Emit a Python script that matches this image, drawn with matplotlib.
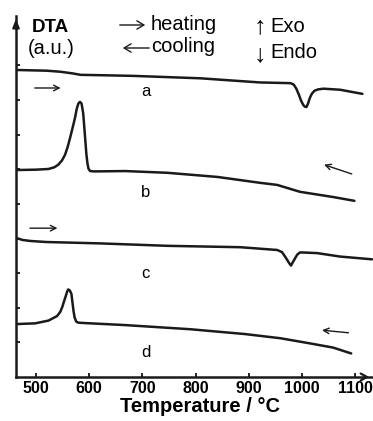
import matplotlib
matplotlib.use("Agg")
import matplotlib.pyplot as plt
from matplotlib.patches import FancyArrowPatch

plt.rcParams['font.family'] = ['Liberation Sans', 'DejaVu Sans']

# DTA traces, temperature in degC and signal in arbitrary units
a_T = [465, 520, 546, 570, 584, 620, 683, 809, 921, 978, 984, 989, 994, 998, 1002, 1005,
       1008, 1011, 1014, 1018, 1023, 1030, 1040, 1071, 1113]
a_y = [8.87, 8.85, 8.82, 8.77, 8.73, 8.72, 8.70, 8.63, 8.51, 8.49, 8.45, 8.33, 8.15, 7.98, 7.86, 7.81,
       7.80, 7.90, 8.05, 8.18, 8.27, 8.31, 8.33, 8.30, 8.18]

b_T = [465, 500, 524, 535, 542, 549, 555, 560, 565, 570, 574, 577, 580, 583, 586, 589, 591, 593,
       595, 597, 599, 602, 610, 668, 747, 841, 921, 953, 996, 1058, 1098]
b_y = [5.98, 5.99, 6.01, 6.06, 6.13, 6.25, 6.42, 6.65, 6.94, 7.25, 7.51, 7.75, 7.90, 7.95, 7.90, 7.63, 7.25, 6.85,
       6.45, 6.18, 6.02, 5.95, 5.94, 5.95, 5.90, 5.78, 5.61, 5.55, 5.35, 5.20, 5.09]

c_T = [465, 475, 490, 520, 621, 747, 884, 953, 962, 967, 972, 976, 979, 983, 987, 991, 996, 1028, 1071, 1131]
c_y = [4.01, 3.96, 3.93, 3.90, 3.86, 3.79, 3.75, 3.67, 3.61, 3.50, 3.38, 3.28, 3.22, 3.33, 3.44, 3.54, 3.60,
       3.58, 3.48, 3.40]

d_T = [465, 499, 524, 540, 546, 550, 553, 556, 559, 561, 564, 567, 569, 571, 573, 576, 580, 590,
       668, 790, 893, 959, 1015, 1058, 1092]
d_y = [1.53, 1.55, 1.63, 1.76, 1.88, 2.03, 2.18, 2.32, 2.47, 2.53, 2.50, 2.40, 2.15, 1.90, 1.72, 1.60, 1.57, 1.56,
       1.50, 1.38, 1.24, 1.12, 0.97, 0.85, 0.68]

curve_labels = ['a', 'b', 'c', 'd']
label_y = [8.24, 5.32, 3.0, 0.72]
x_ticks = [500, 600, 700, 800, 900, 1000, 1100]

W, H = 373, 421
fig = plt.figure(figsize=(W / 100, H / 100), dpi=100)
ax = fig.add_axes([16 / W, 1 - 377 / H, 356 / W, 361 / H])

def px(x, y):
    # figure pixel (from top-left) -> figure fraction
    return x / W, 1 - y / H

for T, y in [(a_T, a_y), (b_T, b_y), (c_T, c_y), (d_T, d_y)]:
    ax.plot(T, y, color='#1a1a1a', lw=1.8, solid_joinstyle='round', solid_capstyle='round', clip_on=False)

for lab, ly in zip(curve_labels, label_y):
    ax.text(706, ly, lab, fontsize=12, ha='center', va='center')

ax.set_xlim(463, 1131)
ax.set_ylim(0, 10.43)

for s in ['top', 'right']:
    ax.spines[s].set_visible(False)
for s in ['left', 'bottom']:
    ax.spines[s].set_linewidth(1.8)
    ax.spines[s].set_color('#1a1a1a')

ax.set_xticks(x_ticks)
ax.set_xticklabels([str(t) for t in x_ticks], fontweight='bold', fontsize=11.5)
ax.tick_params(axis='x', direction='in', length=3, width=1.2, pad=3)
ax.set_yticks(range(1, 10))
ax.set_yticklabels([])
ax.tick_params(axis='y', direction='in', length=3, width=1.2)

# axis arrow heads
ax.annotate('', xy=(0, 1.0), xytext=(0, 0.96), xycoords='axes fraction',
            arrowprops=dict(arrowstyle='-|>,head_length=0.5,head_width=0.2', color='#1a1a1a', lw=1.5))
ax.annotate('', xy=(1.0, 0), xytext=(0.97, 0), xycoords='axes fraction',
            arrowprops=dict(arrowstyle='->,head_length=0.45,head_width=0.25', color='#1a1a1a', lw=1.6))

# heating / cooling arrows beside the traces
arr = dict(arrowstyle='->,head_length=0.4,head_width=0.2', color='#1a1a1a', lw=1.0)
ax.annotate('', xy=(552, 8.35), xytext=(493, 8.35), arrowprops=arr)
ax.annotate('', xy=(546, 4.30), xytext=(484, 4.30), arrowprops=arr)
ax.annotate('', xy=(1036, 6.16), xytext=(1098, 5.84), arrowprops=arr)
ax.annotate('', xy=(1032, 1.36), xytext=(1092, 1.27), arrowprops=arr)

# header
fig.text(*px(32, 27), 'DTA', fontsize=13.5, fontweight='bold', va='center', ha='left')
fig.text(*px(28, 48), '(a.u.)', fontsize=14.5, va='center', ha='left')
fig.text(*px(151, 25), 'heating', fontsize=14.5, va='center', ha='left')
fig.text(*px(151, 47), 'cooling', fontsize=14.5, va='center', ha='left')
fig.text(*px(260, 26), '\u2191', fontsize=18, va='center', ha='center')
fig.text(*px(270, 27), 'Exo', fontsize=14.5, va='center', ha='left')
fig.text(*px(260, 54), '\u2193', fontsize=18, va='center', ha='center')
fig.text(*px(270, 52), 'Endo', fontsize=14.5, va='center', ha='left')
for x0, x1, y0 in [(117, 148, 25), (152, 120, 48)]:
    fig.patches.append(FancyArrowPatch(px(x0, y0), px(x1, y0), transform=fig.transFigure,
                       arrowstyle='->,head_length=5,head_width=3', color='#1a1a1a', lw=1.0))

fig.text(*px(200, 406), 'Temperature / \u00b0C', fontsize=14.5, fontweight='bold', ha='center', va='center')

fig.savefig('out.png', dpi=100)
